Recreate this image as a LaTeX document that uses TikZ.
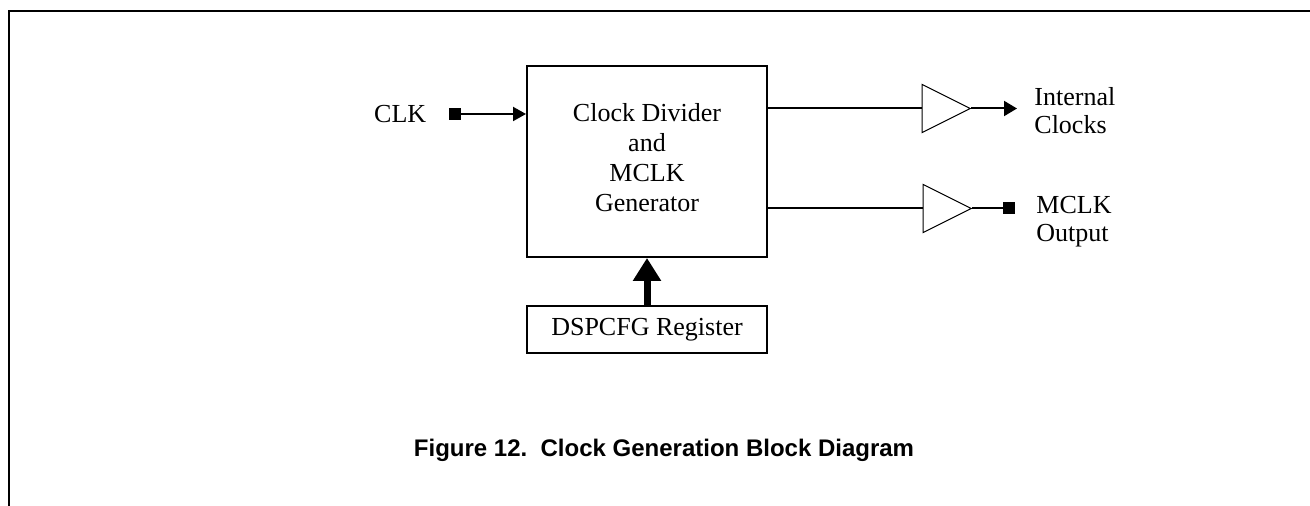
\documentclass[tikz,border=0pt]{standalone}
\usepackage{fontspec}
\setmainfont{Liberation Serif}
\newfontfamily\capfont{Liberation Sans}
\usepackage{tikz}
\usetikzlibrary{arrows.meta,positioning,shapes.geometric,calc}

\begin{document}
\begin{tikzpicture}[x=0.5pt,y=-0.5pt,
    block/.style={draw,line width=1pt,align=center,minimum width=120pt,font=\fontsize{13}{15}\selectfont},
    blocktext/.style={align=center,font=\fontsize{13}{15}\selectfont},
    buffer/.style={draw,line width=0.5pt,isosceles triangle,isosceles triangle stretches,minimum width=24pt,minimum height=24pt,inner sep=0pt},
    pad/.style={fill,minimum size=6pt,inner sep=0pt},
    lbl/.style={align=left,inner sep=0pt,font=\fontsize{13}{14}\selectfont},
    wire/.style={line width=1pt}]
    \useasboundingbox (0,0) rectangle (1310,506);
    % page frame
    \draw[line width=1pt] (9,506) -- (9,11) -- (1310,11);
    % blocks
    \node[block,minimum height=95.5pt] (divider) at (647,161.5) {};
    \node[blocktext] (divtext) at ($(divider.center)+(0,-4)$) {Clock Divider\\and\\MCLK\\Generator};
    \node[block,minimum height=23.5pt] (dspcfg) at (647,329.5) {DSPCFG Register};
    % input
    \node[pad] (clkpin) at (455,114) {};
    \node[lbl,left=11pt of clkpin] (clklbl) {CLK};
    % buffers
    \node[buffer] (bufint) at (937,108.5) {};
    \node[buffer] (bufmclk) at (938,208.5) {};
    \coordinate (intend) at (1017,108.5);
    \node[pad] (mclkpin) at (1009,208.5) {};
    \node[lbl,anchor=west] (intlbl) at (1034,111) {Internal\\Clocks};
    \node[lbl,anchor=west] (mclklbl) at (1036,221.5) {MCLK\\Output};
    % arrows
    \draw[wire,-{Triangle[length=6.5pt,width=7pt]}] (clkpin) -- (clkpin -| divider.west);
    \draw[wire] (divider.east |- bufint.west) -- (bufint.west);
    \draw[wire] (divider.east |- bufmclk.west) -- (bufmclk.west);
    \draw[wire,-{Triangle[length=6.5pt,width=7.5pt]}] (bufint.east) -- (intend);
    \draw[wire] (bufmclk.east) -- (mclkpin);
    \draw[line width=3.5pt,-{Triangle[length=11.5pt,width=13.5pt]}] (dspcfg.north) -- (divider.south);
    % caption
    \node[font=\capfont\bfseries\fontsize{12}{14}\selectfont] (caption) at (664,450) {Figure 12.\ \ Clock Generation Block Diagram};
  \end{tikzpicture}
\end{document}
